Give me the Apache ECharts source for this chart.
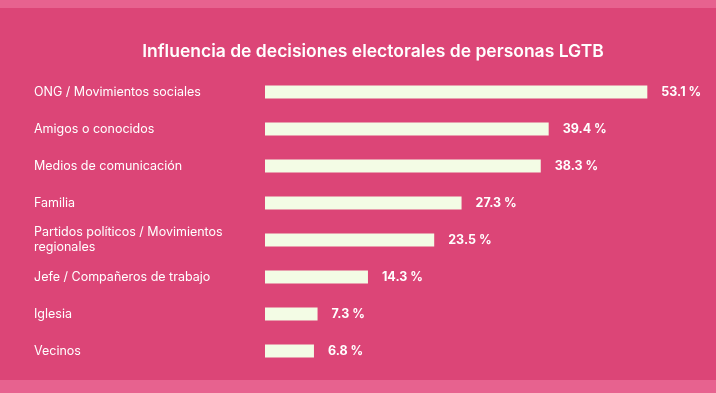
<!DOCTYPE html>
<html>
<head>
<meta charset="utf-8">
<script src="https://cdn.jsdelivr.net/npm/echarts@6/dist/echarts.min.js"></script>
<style>
html,body{margin:0;padding:0;background:#dc4577;}
#chart{width:716px;height:393px;}
</style>
</head>
<body>
<div id="chart"></div>
<script>
const titleText = 'Influencia de decisiones electorales de personas LGTB';
const categories = [
  'ONG / Movimientos sociales',
  'Amigos o conocidos',
  'Medios de comunicación',
  'Familia',
  'Partidos políticos / Movimientos\nregionales',
  'Jefe / Compañeros de trabajo',
  'Iglesia',
  'Vecinos'
];
const values = [53.1, 39.4, 38.3, 27.3, 23.5, 14.3, 7.3, 6.8];

const chart = echarts.init(document.getElementById('chart'), null, {renderer: 'canvas'});
chart.setOption({
  backgroundColor: '#dc4577',
  animation: false,
  graphic: [
    {type: 'rect', left: 0, top: 0, z: -10, silent: true, shape: {width: 716, height: 8}, style: {fill: '#e7628f'}},
    {type: 'rect', left: 0, top: 380, z: -10, silent: true, shape: {width: 716, height: 13}, style: {fill: '#e7628f'}}
  ],
  title: {
    text: titleText,
    left: 368,
    textAlign: 'center',
    top: 38,
    textStyle: {color: '#ffffff', fontFamily: 'Inter', fontWeight: 600, fontSize: 17.5}
  },
  grid: {left: 265, right: 19, top: 73.6, bottom: 23.4, containLabel: false},
  xAxis: {
    type: 'value', min: 0, max: 60,
    show: false
  },
  yAxis: {
    type: 'category',
    data: categories,
    inverse: true,
    axisLine: {show: false},
    axisTick: {show: false},
    splitLine: {show: false},
    axisLabel: {
      margin: 231,
      align: 'left',
      color: '#ffffff',
      fontFamily: 'Inter',
      fontSize: 12.5,
      lineHeight: 15
    }
  },
  series: [{
    type: 'bar',
    data: values,
    barWidth: 13,
    itemStyle: {color: '#f3fce5'},
    label: {
      show: true,
      position: 'right',
      distance: 14,
      color: '#ffffff',
      fontFamily: 'Inter',
      fontWeight: 'bold',
      fontSize: 12.5,
      formatter: p => p.value + ' %'
    }
  }]
});
</script>
</body>
</html>
